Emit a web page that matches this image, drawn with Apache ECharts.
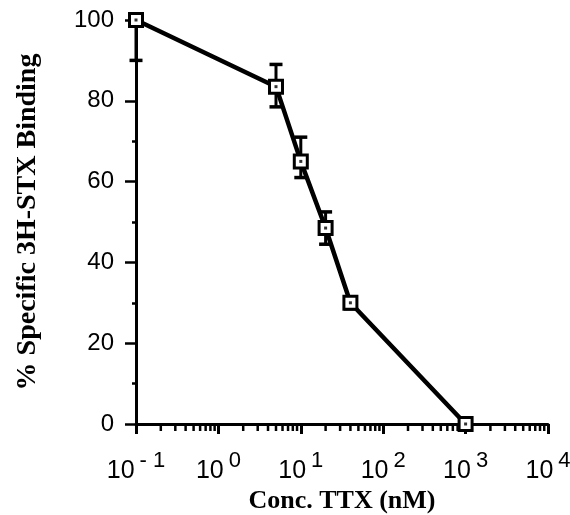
<!DOCTYPE html>
<html>
<head>
<meta charset="utf-8">
<script src="https://cdn.jsdelivr.net/npm/echarts@6/dist/echarts.min.js"></script>
<style>
html,body{margin:0;padding:0;background:#fff;}
#chart{width:570px;height:515px;}
</style>
</head>
<body>
<div id="chart"></div>
<script>
// Data
var concentrations = [0.1, 5, 10, 20, 40, 1000];          // TTX, nM
var binding = [100, 83.5, 65, 48.5, 30, 0];                 // % specific binding
var errLow = [90, 78.5, 61, 44.5, 28.5, 0];
var errHigh = [100, 89, 71, 52.5, 31.5, 0];
var yTicks = [0, 20, 40, 60, 80, 100];
var xDecades = [-1, 0, 1, 2, 3, 4];

var lineData = concentrations.map(function (c, i) { return [c, binding[i]]; });
var errData = concentrations.map(function (c, i) { return [c, errLow[i], errHigh[i]]; });

var minorData = [];
for (var d = 0; d < xDecades.length - 1; d++) {
  for (var k = 2; k <= 9; k++) minorData.push([k * Math.pow(10, xDecades[d]), 0]);
}

var chart = echarts.init(document.getElementById('chart'));
chart.setOption({
  animation: false,
  backgroundColor: '#fff',
  grid: { left: 136, right: 22, top: 20, bottom: 91, containLabel: false, outerBoundsMode: 'none' },
  xAxis: {
    type: 'log', logBase: 10, min: 0.1, max: 10000,
    name: 'Conc. TTX (nM)', nameLocation: 'middle', nameGap: 62,
    nameTextStyle: { fontFamily: 'Liberation Serif', fontWeight: 'bold', fontSize: 26, color: '#000' },
    axisLine: { lineStyle: { color: '#000', width: 3 } },
    axisTick: { show: true, length: 10, lineStyle: { color: '#000', width: 3 } },
    splitLine: { show: false },
    minorTick: { show: false },
    axisLabel: {
      margin: 26, color: '#000',
      formatter: function (v) {
        var e = Math.round(Math.log10(v));
        return '{b|10}{e|' + (e < 0 ? '- ' + (-e) : e) + '}';
      },
      rich: {
        b: { fontFamily: 'Liberation Sans', fontSize: 25, color: '#000' },
        e: { fontFamily: 'Liberation Sans', fontSize: 22, color: '#000', padding: [0, 0, 20, 5] }
      }
    }
  },
  yAxis: {
    type: 'value', min: 0, max: 100, interval: 20,
    name: '% Specific 3H-STX Binding', nameLocation: 'middle', nameGap: 94,
    nameTextStyle: { fontFamily: 'Liberation Serif', fontWeight: 'bold', fontSize: 28, color: '#000' },
    axisLine: { show: true, lineStyle: { color: '#000', width: 3 } },
    axisTick: { show: true, length: 11, lineStyle: { color: '#000', width: 2.5 } },
    minorTick: { show: true, splitNumber: 2, length: 4, lineStyle: { color: '#000', width: 2.5 } },
    splitLine: { show: false },
    axisLabel: {
      margin: 22, color: '#000', fontFamily: 'Liberation Sans', fontSize: 24,
      formatter: function (v) { return yTicks.indexOf(v) >= 0 ? String(v) : ''; }
    }
  },
  series: [
    {
      type: 'custom', z: 2, clip: false,
      data: minorData,
      renderItem: function (params, api) {
        var p = api.coord([api.value(0), api.value(1)]);
        return { type: 'line', shape: { x1: p[0], y1: p[1], x2: p[0], y2: p[1] + 7 },
                 style: { stroke: '#000', lineWidth: 2.5 } };
      }
    },
    {
      type: 'custom', z: 3, clip: false,
      data: errData,
      renderItem: function (params, api) {
        var lo = api.coord([api.value(0), api.value(1)]);
        var hi = api.coord([api.value(0), api.value(2)]);
        var hw = 6.5;
        return { type: 'group', children: [
          { type: 'line', shape: { x1: lo[0], y1: lo[1], x2: hi[0], y2: hi[1] }, style: { stroke: '#000', lineWidth: 3 } },
          { type: 'line', shape: { x1: lo[0] - hw, y1: lo[1], x2: lo[0] + hw, y2: lo[1] }, style: { stroke: '#000', lineWidth: 3.5 } },
          { type: 'line', shape: { x1: hi[0] - hw, y1: hi[1], x2: hi[0] + hw, y2: hi[1] }, style: { stroke: '#000', lineWidth: 3.5 } }
        ] };
      }
    },
    {
      type: 'line', z: 4, data: lineData,
      symbol: 'rect', symbolSize: 13,
      lineStyle: { color: '#000', width: 4.5 },
      itemStyle: { color: '#fff', borderColor: '#000', borderWidth: 3 }
    },
    {
      type: 'scatter', z: 5, data: lineData,
      symbol: 'rect', symbolSize: 3,
      itemStyle: { color: '#000' }
    }
  ]
});
</script>
</body>
</html>
